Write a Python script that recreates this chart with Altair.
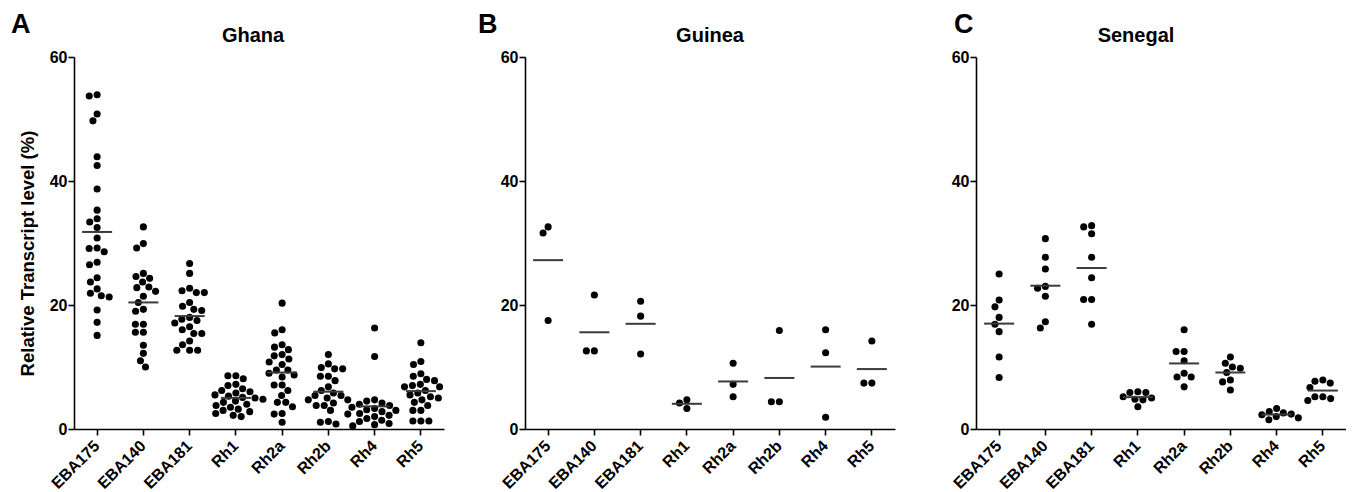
import math
import altair as alt
import pandas as pd

genes = ["EBA175", "EBA140", "EBA181", "Rh1", "Rh2a", "Rh2b", "Rh4", "Rh5"]

# ---- Ghana ----
ghana_EBA175 = [53.9, 53.7, 50.8, 49.7, 43.9, 42.5, 38.7, 35.3, 33.9, 33.4, 32.5, 30.8, 29.2,
                29.1, 28.6, 26.9, 26.5, 24.4, 23.7, 22.6, 21.9, 21.5, 21.3, 19.2, 17.2, 15.1]
ghana_EBA140 = [32.6, 29.9, 29.2, 25.1, 24.6, 24.3, 23.7, 22.9, 22.8, 22.2, 21.4, 20.4, 19.3,
                19.0, 16.9, 16.9, 15.6, 15.6, 13.5, 12.2, 11.0, 10.0]
ghana_EBA181 = [26.7, 25.1, 22.7, 22.3, 22.0, 22.0, 20.4, 19.8, 19.3, 19.1, 18.0, 17.7, 17.5,
                17.1, 16.5, 16.0, 15.4, 15.4, 14.2, 13.6, 12.7, 12.7, 12.7]
ghana_Rh1 = [8.6, 8.6, 8.1, 7.2, 7.0, 6.5, 6.2, 6.0, 5.8, 5.5, 5.3, 5.1, 5.0, 4.8, 4.5, 4.3,
             4.0, 3.8, 3.5, 3.2, 3.0, 2.8, 2.5, 2.2, 2.0]
ghana_Rh2a = [20.3, 16.0, 15.5, 13.6, 13.2, 12.8, 12.0, 11.8, 11.3, 10.8, 10.4, 9.5, 9.5, 9.0,
              8.7, 8.4, 7.1, 7.1, 6.2, 5.4, 4.3, 4.3, 3.6, 2.5, 2.4, 1.1]
ghana_Rh2b = [12.0, 10.5, 9.9, 9.7, 9.7, 8.5, 8.5, 7.8, 6.8, 6.2, 5.8, 5.4, 5.4, 5.0, 4.7,
              4.7, 4.2, 3.8, 3.8, 3.0, 1.2, 1.1, 0.8]
ghana_Rh4 = [16.3, 11.7, 4.7, 4.5, 4.2, 4.0, 3.8, 3.5, 3.3, 3.1, 3.0, 2.8, 2.5, 2.4, 2.2, 2.0,
             1.7, 1.4, 1.2, 0.9, 0.7, 0.5]
ghana_Rh5 = [13.9, 10.9, 10.4, 8.9, 8.5, 8.0, 7.8, 7.2, 7.0, 6.8, 6.8, 6.2, 5.8, 5.5, 5.2, 5.0,
             4.7, 4.3, 3.8, 3.0, 3.0, 1.3, 1.3, 1.3]

# ---- Guinea ----
guinea_EBA175 = [32.6, 31.6, 17.5]
guinea_EBA140 = [21.6, 12.6, 12.6]
guinea_EBA181 = [20.6, 18.2, 12.1]
guinea_Rh1 = [4.7, 4.2, 3.3]
guinea_Rh2a = [10.6, 7.2, 5.2]
guinea_Rh2b = [15.9, 4.4, 4.4]
guinea_Rh4 = [16.0, 12.3, 1.9]
guinea_Rh5 = [14.2, 7.4, 7.4]

# ---- Senegal ----
senegal_EBA175 = [25.0, 20.8, 19.7, 18.0, 16.9, 15.7, 11.6, 8.3]
senegal_EBA140 = [30.7, 27.7, 25.8, 23.0, 22.7, 21.4, 17.3, 16.3]
senegal_EBA181 = [32.8, 32.6, 31.5, 27.7, 24.4, 20.9, 20.9, 16.9]
senegal_Rh1 = [6.0, 5.9, 5.9, 5.2, 5.0, 4.8, 4.7, 3.6]
senegal_Rh2a = [16.0, 12.5, 12.5, 11.0, 9.0, 8.4, 8.4, 6.8]
senegal_Rh2b = [11.6, 10.6, 10.0, 9.8, 9.1, 7.9, 7.6, 6.3]
senegal_Rh4 = [3.3, 2.8, 2.6, 2.4, 2.3, 2.0, 1.8, 1.5]
senegal_Rh5 = [7.9, 7.7, 7.4, 6.7, 5.2, 5.2, 4.9, 4.6]

series = {
    "Ghana": [ghana_EBA175, ghana_EBA140, ghana_EBA181, ghana_Rh1, ghana_Rh2a, ghana_Rh2b, ghana_Rh4, ghana_Rh5],
    "Guinea": [guinea_EBA175, guinea_EBA140, guinea_EBA181, guinea_Rh1, guinea_Rh2a, guinea_Rh2b, guinea_Rh4, guinea_Rh5],
    "Senegal": [senegal_EBA175, senegal_EBA140, senegal_EBA181, senegal_Rh1, senegal_Rh2a, senegal_Rh2b, senegal_Rh4, senegal_Rh5],
}

FONT = "Liberation Sans"
PW, PH = 370, 372
STEP = PW / len(genes)
PX = PH / 60.0
DIAM = 8.0


def swarm(vals):
    """Simple beeswarm: horizontal offsets (px) so dots do not overlap."""
    order = sorted(range(len(vals)), key=lambda i: -vals[i])
    placed, offs = [], [0.0] * len(vals)
    for i in order:
        y = vals[i] * PX
        cands = [0.0]
        for xj, yj in placed:
            dy = abs(y - yj)
            if dy < DIAM:
                dx = math.sqrt(DIAM * DIAM - dy * dy)
                cands += [xj + dx, xj - dx]
        best = 0.0
        for c in sorted(cands, key=lambda c: (abs(c), c)):
            if all((c - xj) ** 2 + (y - yj) ** 2 >= DIAM * DIAM - 1e-6 for xj, yj in placed):
                best = c
                break
        offs[i] = best
        placed.append((best, y))
    return offs


rows = []
for country, lists in series.items():
    for g, vals in zip(genes, lists):
        for v, o in zip(vals, swarm(vals)):
            rows.append({"country": country, "gene": g, "value": v, "off": o})
df = pd.DataFrame(rows)


def panel(country, letter, letter_x, title_dx, ytitle):
    d = df[df.country == country]
    x = alt.X("gene:N", sort=genes,
              scale=alt.Scale(domain=genes, paddingInner=0, paddingOuter=0),
              axis=alt.Axis(title=None, labelAngle=-45, labelAlign="right",
                            labelBaseline="middle", labelPadding=8, labelFontSize=16))
    yscale = alt.Scale(domain=[0, 60], nice=False, zero=True)
    yaxis = alt.Axis(values=[0, 20, 40, 60], title=ytitle if ytitle else None,
                     titlePadding=12, titleY=196)
    pts = alt.Chart(d).mark_circle(size=50, color="black", opacity=1).encode(
        x=x,
        y=alt.Y("value:Q", scale=yscale, axis=yaxis),
        xOffset=alt.XOffset("off:Q", scale=alt.Scale(domain=[-STEP / 2, STEP / 2], range=[0, STEP])),
    )
    mean = alt.Chart(d).mark_tick(size=30, thickness=2, color="#3a3a3a").encode(
        x=x,
        y=alt.Y("mean(value):Q", scale=yscale, axis=yaxis),
    )
    lab = alt.Chart(pd.DataFrame({"t": [letter]})).mark_text(
        font=FONT, fontSize=27, fontWeight="bold", align="left", baseline="alphabetic", color="black"
    ).encode(text="t:N", x=alt.value(letter_x), y=alt.value(-24))
    ttl = alt.Chart(pd.DataFrame({"t": [country]})).mark_text(
        font=FONT, fontSize=20, fontWeight="bold", align="center", baseline="alphabetic", color="black"
    ).encode(text="t:N", x=alt.value(PW / 2 + title_dx), y=alt.value(-15))
    return alt.layer(pts, mean, lab, ttl).properties(width=PW, height=PH)


pa = panel("Ghana", "A", -63, -6, "Relative Transcript level (%)")
pb = panel("Guinea", "B", -47, 0, "")
pc = panel("Senegal", "C", -22, -25, "")

chart = alt.hconcat(pa, pb, pc, spacing=81, bounds="flush").properties(
    padding={"left": 3, "top": 3, "right": 0, "bottom": 0}
).configure_view(stroke=None).configure_axis(
    grid=False, domainColor="black", domainWidth=1.6, tickColor="black", tickWidth=1.6,
    tickSize=6, labelFont=FONT, labelFontSize=16, labelFontWeight="bold", labelColor="black",
    titleFont=FONT, titleFontSize=18.5, titleFontWeight="bold", titleColor="black", labelPadding=1,
)

chart.save("out.html", embed_options={"renderer": "svg", "actions": False})
